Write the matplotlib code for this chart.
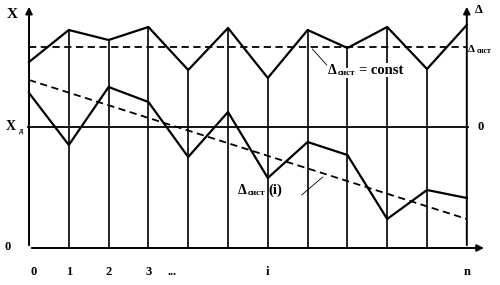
import numpy as np
import matplotlib.pyplot as plt

# measurement index i = 0..n
steps = list(range(12))
tick_labels = ["0", "1", "2", "3", "i", "n"]
tick_pos = [0, 1, 2, 3, 6, 11]

# readings with constant systematic error (upper curve)
x_const = [186, 218, 208, 221, 178, 220, 170, 218, 200, 221, 179, 223]
# readings with varying systematic error (lower curve)
x_var = [155, 103, 161, 146, 91, 136, 70, 106, 93, 29, 58, 50]

x_true = 121          # X_д level
delta_const = 201     # dashed constant level
trend_ends = [168, 29]  # dashed trend Δсист(i) at i=0 and i=n

plt.rcParams['font.family'] = ['Liberation Serif', 'DejaVu Serif']

fig = plt.figure(figsize=(5.0, 2.85), dpi=100)
ax = fig.add_axes([0, 0, 1, 1])
ax.set_xlim(-0.729, 11.834)
ax.set_ylim(-37, 248)
ax.axis("off")

lw = 1.6
# verticals from base up to upper curve
for i in steps[1:-1]:
    ax.plot([i, i], [0, x_const[i]], color="black", lw=1.2, zorder=1)

# axes with arrows
ax.annotate("", xy=(0, 244), xytext=(0, 0),
            arrowprops=dict(arrowstyle="-|>", color="black", lw=1.4, mutation_scale=10))
ax.annotate("", xy=(11, 244), xytext=(11, 0),
            arrowprops=dict(arrowstyle="-|>", color="black", lw=1.4, mutation_scale=10))
ax.annotate("", xy=(11.5, 0), xytext=(0, 0),
            arrowprops=dict(arrowstyle="-|>", color="black", lw=1.4, mutation_scale=10))

ax.plot([-0.03, 11.02], [x_true, x_true], color="black", lw=1.3)

ax.plot(steps, x_const, color="black", lw=lw, zorder=3)
ax.plot(steps, x_var, color="black", lw=lw, zorder=3)
ax.plot([0, 11], [delta_const, delta_const], color="black", lw=1.3, ls=(0, (4, 2.5)))
ax.plot([0, 11], trend_ends, color="black", lw=1.3, ls=(0, (4, 2.5)))

bold = dict(fontweight="bold", color="black")
ax.text(-0.43, 233, "X", fontsize=11, ha="center", va="center", **bold)
ax.text(-0.45, x_true, "X", fontsize=10, ha="center", va="center", **bold)
ax.text(-0.2, x_true - 3, "д", fontsize=6, ha="center", va="center", **bold)
ax.text(-0.53, 1, "0", fontsize=9, ha="center", va="center", **bold)
ax.text(11.3, 238, "Δ", fontsize=9, ha="center", va="center", **bold)
ax.text(11.02, delta_const - 2, "Δ", fontsize=8, ha="left", va="center", **bold)
ax.text(11.25, delta_const - 4, "сист", fontsize=5.5, ha="left", va="center", **bold)
ax.text(11.35, x_true, "0", fontsize=9, ha="center", va="center", **bold)

for p, lab in zip(tick_pos, tick_labels):
    ax.text(p + (0.12 if p == 0 else 0), -24, lab, fontsize=9, ha="center", va="center", **bold)
ax.text(3.6, -24, "...", fontsize=9, ha="center", va="center", **bold)

# Δсист = const label with white box cutting the verticals
ax.text(7.5, 178, "Δ", fontsize=10, ha="left", va="center", zorder=2,
        bbox=dict(facecolor="white", edgecolor="none", pad=0.5), **bold)
ax.text(7.76, 175, "сист", fontsize=6.5, ha="left", va="center", zorder=2,
        bbox=dict(facecolor="white", edgecolor="none", pad=0.5), **bold)
ax.text(8.3, 178, "= const", fontsize=10.5, ha="left", va="center", zorder=2,
        bbox=dict(facecolor="white", edgecolor="none", pad=0.5), **bold)
ax.plot([7.12, 7.48], [199, 183], color="black", lw=0.6)

ax.text(5.24, 58, "Δ", fontsize=10, ha="left", va="center", **bold)
ax.text(5.5, 55, "сист", fontsize=6.5, ha="left", va="center", **bold)
ax.text(6.02, 58, "(i)", fontsize=10.5, ha="left", va="center", **bold)
ax.plot([6.85, 7.38], [53, 71], color="black", lw=0.6)

fig.savefig("out.png", dpi=100, facecolor="white")
